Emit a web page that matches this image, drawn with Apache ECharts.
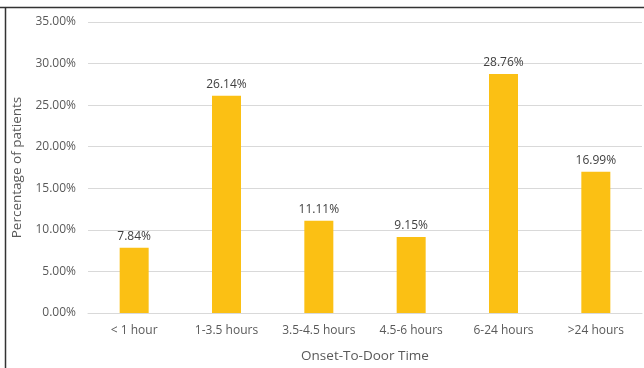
<!DOCTYPE html>
<html>
<head>
<meta charset="utf-8">
<title>Onset-To-Door Time</title>
<script src="https://cdn.jsdelivr.net/npm/echarts@6/dist/echarts.min.js"></script>
<style>
  html, body { margin: 0; padding: 0; background: #fff; }
  #chart { width: 644px; height: 368px; }
</style>
</head>
<body>
<div id="chart"></div>
<script>
// categories and values
var categories = ['< 1 hour', '1-3.5 hours', '3.5-4.5 hours', '4.5-6 hours', '6-24 hours', '>24 hours'];
var percents = [7.84, 26.14, 11.11, 9.15, 28.76, 16.99];
var yMax = 35;
var yStep = 5;

var chart = echarts.init(document.getElementById('chart'));
var txt = '#595959';
var font = '"Open Sans", "Liberation Sans", sans-serif';

var option = {
  animation: false,
  textStyle: { fontFamily: font },
  grid: { left: 88, right: 2, top: 22, bottom: 53, containLabel: false },
  xAxis: {
    type: 'category',
    data: categories,
    name: 'Onset-To-Door Time',
    nameLocation: 'middle',
    nameGap: 36,
    nameTextStyle: { color: txt, fontSize: 13.5, fontFamily: font },
    axisLine: { lineStyle: { color: '#d9d9d9' } },
    axisTick: { show: false },
    axisLabel: { color: txt, fontSize: 12, margin: 12, interval: 0, fontFamily: font }
  },
  yAxis: {
    type: 'value',
    min: 0,
    max: yMax,
    interval: yStep,
    name: 'Percentage of patients',
    nameLocation: 'middle',
    nameGap: 61,
    nameTextStyle: { color: txt, fontSize: 13.5, fontFamily: font },
    axisLine: { show: false },
    axisTick: { show: false },
    splitLine: { lineStyle: { color: '#d9d9d9' } },
    axisLabel: {
      color: txt, fontSize: 12, margin: 12, fontFamily: font,
      formatter: function (v) { return v.toFixed(2) + '%'; }
    }
  },
  series: [{
    type: 'bar',
    data: percents,
    barWidth: 29,
    itemStyle: { color: '#fbc014' },
    label: {
      show: true,
      position: 'top',
      distance: 5,
      color: '#404040',
      fontSize: 12,
      fontFamily: font,
      formatter: function (p) { return p.value.toFixed(2) + '%'; }
    }
  }],
  graphic: [
    { type: 'line', shape: { x1: 0, y1: 7.5, x2: 644, y2: 7.5 }, style: { stroke: '#333', lineWidth: 1.5 } },
    { type: 'line', shape: { x1: 5.5, y1: 7, x2: 5.5, y2: 368 }, style: { stroke: '#333', lineWidth: 1.5 } }
  ]
};
chart.setOption(option);
</script>
</body>
</html>
